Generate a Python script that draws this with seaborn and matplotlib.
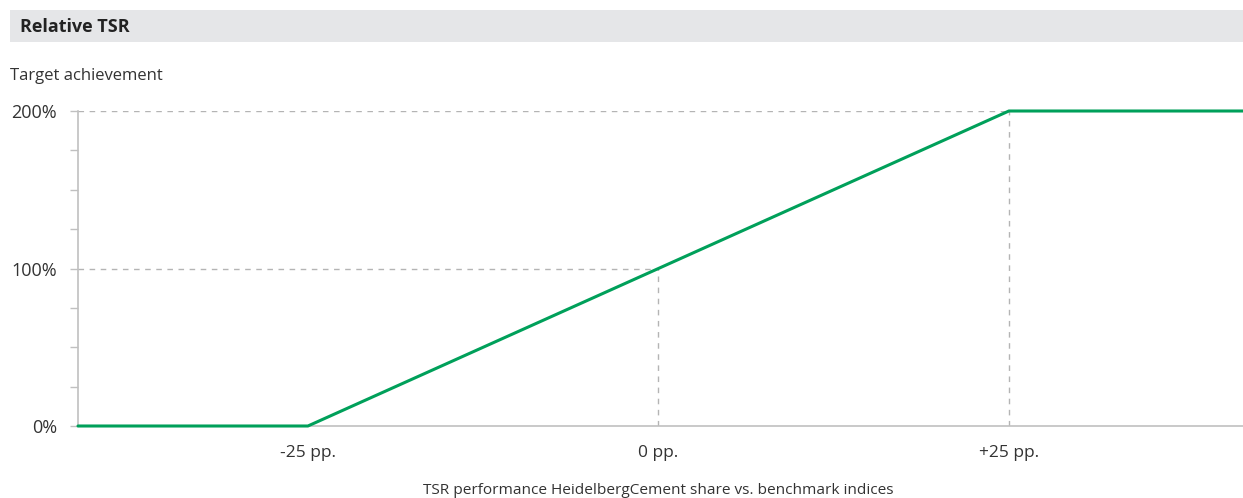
import matplotlib
matplotlib.use("Agg")
import matplotlib.pyplot as plt
import seaborn as sns
import pandas as pd
from matplotlib.patches import Rectangle

# data
tsr_pp = [-41.4, -25, 0, 25, 41.7]
achievement = [0, 0, 100, 200, 200]
xtick_vals = [-25, 0, 25]
xtick_labels = ["-25 pp.", "0 pp.", "+25 pp."]
ytick_major = [0, 100, 200]
ytick_labels = ["0%", "100%", "200%"]
ytick_minor = [25, 50, 75, 125, 150, 175]

sns.set_theme(style="white")
plt.rcParams['font.family'] = ['Open Sans', 'DejaVu Sans']

W, H = 1243, 498
fig = plt.figure(figsize=(W/100, H/100), dpi=100)
ax = fig.add_axes([78/W, (H-426)/H, (1243-78)/W, (426-111)/H])

df = pd.DataFrame({"x": tsr_pp, "y": achievement})
grey = "#b4b4b4"
dash = (0, (4, 4))
# reference lines
ax.plot([tsr_pp[0], 25], [200, 200], color=grey, lw=1, ls=dash, zorder=1)
ax.plot([tsr_pp[0], 0], [100, 100], color=grey, lw=1, ls=dash, zorder=1)
ax.plot([0, 0], [0, 100], color=grey, lw=1, ls=dash, zorder=1)
ax.plot([25, 25], [0, 200], color=grey, lw=1, ls=dash, zorder=1)

sns.lineplot(data=df, x="x", y="y", ax=ax, color="#00a05a", lw=2.2, zorder=3, clip_on=False)

ax.set_xlim(tsr_pp[0], tsr_pp[-1])
ax.set_ylim(0, 200)
ax.set_xticks(xtick_vals)
ax.set_xticklabels(xtick_labels)
ax.set_yticks(ytick_major)
ax.set_yticklabels(ytick_labels)
ax.set_yticks(ytick_minor, minor=True)
ax.tick_params(axis="x", length=0, pad=14, labelsize=12.5, labelcolor="#333333")
ax.tick_params(axis="y", which="both", length=6, width=1, color="#c0c0c0", left=True,
               labelsize=13, labelcolor="#333333", pad=9)
ax.set_xlabel("")
ax.set_ylabel("")
for s in ["top", "right"]:
    ax.spines[s].set_visible(False)
for s in ["left", "bottom"]:
    ax.spines[s].set_color("#c0c0c0")
    ax.spines[s].set_linewidth(1.2)

# header band
fig.patches.append(Rectangle((10/W, (H-42)/H), (1243-10)/W, 32/H, transform=fig.transFigure,
                             facecolor="#e5e6e8", edgecolor="none", zorder=0))
fig.text(20/W, (H-27)/H, "Relative TSR", fontsize=13, fontweight="bold", color="#222222",
         va="center", ha="left")
fig.text(10/W, (H-76)/H, "Target achievement", fontsize=12, color="#333333", va="center", ha="left")
fig.text(658/W, (H-483)/H, "TSR performance HeidelbergCement share vs. benchmark indices",
         fontsize=11.1, color="#333333", va="top", ha="center")

fig.savefig("out.png", dpi=100)
